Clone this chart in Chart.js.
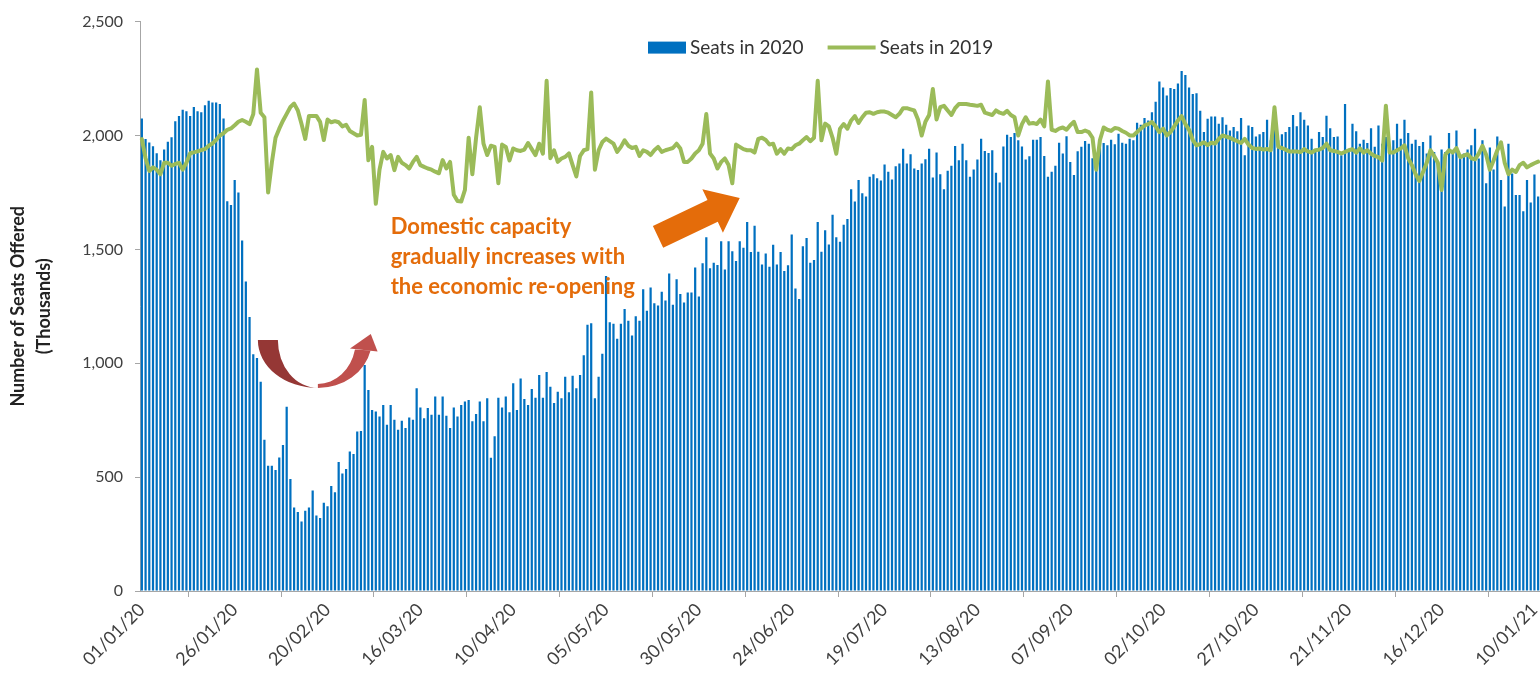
<!DOCTYPE html>
<html>
<head>
<meta charset="utf-8">
<script src="https://cdn.jsdelivr.net/npm/chart.js@4.4.1/dist/chart.umd.min.js"></script>
<style>
  html, body { margin: 0; padding: 0; background: #fff; }
  #wrap { width: 1540px; height: 673px; position: relative; }
</style>
</head>
<body>
<div id="wrap"><canvas id="seatsChart"></canvas></div>
<script>
// Daily seats offered (thousands), one value per day from 01/01/20
const startDate = '2020-01-01';

const seats2020 = [
  2075, 1984, 1969, 1953, 1922, 1891, 1938, 1972, 1992, 2063, 2086, 2113, 2106, 2086, 2125, 2106, 2102, 2133, 2152, 2145,
  2145, 2138, 2075, 1711, 1695, 1805, 1750, 1539, 1359, 1203,
  1039, 1023, 919, 664, 550, 550, 531, 586, 641, 809, 492, 367, 347, 305, 352, 367, 441, 331, 320, 388,
  372, 461, 434, 566, 516, 536, 613, 602, 700, 703, 992, 883,
  795, 788, 766, 817, 730, 817, 752, 708, 748, 716, 762, 752, 890, 806, 759, 803, 774, 854, 774, 854,
  769, 716, 806, 766, 817, 832, 839, 745, 777, 832, 745, 846,
  585, 679, 849, 806, 854, 785, 912, 795, 933, 843, 817, 887, 849, 948, 849, 962, 897, 825, 875, 846,
  941, 873, 945, 890, 948, 1035, 1169, 1176, 846, 941, 1042, 1383,
  1180, 1173, 1108, 1173, 1238, 1187, 1122, 1206, 1187, 1325, 1231, 1333, 1263, 1253, 1314, 1275, 1394, 1257, 1369, 1304,
  1267, 1311, 1311, 1420, 1293, 1439, 1553, 1417, 1441, 1431, 1536,
  1412, 1536, 1492, 1449, 1536, 1507, 1620, 1488, 1604, 1489, 1434, 1482, 1424, 1520, 1434, 1488, 1405, 1430, 1565, 1328,
  1282, 1514, 1550, 1441, 1453, 1620, 1489, 1584, 1521, 1652, 1553, 1533,
  1608, 1633, 1764, 1710, 1804, 1746, 1732, 1819, 1830, 1812, 1802, 1873, 1841, 1807, 1865, 1877, 1942, 1877, 1918, 1855,
  1848, 1877, 1896, 1942, 1815, 1925, 1830, 1764, 1845, 1867, 1954, 1891,
  1964, 1891, 1819, 1851, 1894, 1986, 1932, 1923, 1935, 1836, 1794, 1952, 2003, 1993, 2011, 1979, 1952, 1894, 1909, 1981,
  1981, 1993, 1910, 1819, 1841, 1867, 1968, 1921, 1997, 1884, 1826, 1931,
  1950, 1976, 1964, 1900, 1850, 1979, 1967, 1957, 1981, 1961, 2008, 1968, 1964, 1986, 1979, 2056, 2047, 2077, 2066, 2102,
  2148, 2237, 2211, 2175, 2208, 2204, 2228, 2283, 2266, 2211, 2182,
  2185, 2109, 2015, 2073, 2083, 2083, 2051, 2080, 2047, 2022, 2037, 2019, 2077, 1913, 2044, 2037, 1996, 2005, 2015, 2069,
  1979, 2051, 1979, 2005, 2015, 2037, 2090, 2040, 2102, 2069, 2044, 1986,
  1935, 2015, 1993, 2087, 2032, 1993, 1996, 1913, 2138, 1935, 2051, 2019, 1964, 1981, 1967, 2032, 1950, 2044, 1964, 1993,
  1935, 1979, 2051, 1986, 2069, 2011, 1964, 1981, 1954, 1971, 1921, 2000,
  1928, 1884, 1938, 1928, 2011, 1932, 2022, 1906, 1921, 1938, 1957, 2029, 1899, 1979, 1790, 1947, 1851, 1996, 1804, 1688,
  1964, 1833, 1739, 1739, 1667, 1804, 1706, 1829, 1732
];

const seats2019 = [
  1984, 1900, 1844, 1860, 1850, 1830, 1880, 1880, 1867, 1875, 1880, 1850, 1880, 1922, 1926, 1930, 1936, 1940, 1955, 1965,
  1980, 2000, 2010, 2025, 2031, 2045, 2060, 2068, 2060, 2050,
  2094, 2290, 2100, 2080, 1750, 1880, 1990, 2030, 2065, 2095, 2125, 2140, 2110, 2050, 1985, 2086, 2086, 2086, 2060, 1980,
  2070, 2058, 2063, 2058, 2040, 2047, 2020, 2010, 2000, 2003, 2156, 1891,
  1950, 1700, 1850, 1928, 1899, 1914, 1848, 1906, 1880, 1870, 1855, 1884, 1906, 1870, 1862, 1855, 1850, 1841, 1834, 1892,
  1855, 1884, 1740, 1712, 1710, 1761, 1990, 1830, 1990, 2124, 1964, 1914,
  1955, 1950, 1790, 1960, 1950, 1890, 1943, 1935, 1932, 1938, 1967, 1940, 1914, 1964, 1920, 2240, 1900, 1935, 1884, 1899,
  1906, 1921, 1870, 1820, 1910, 1935, 1940, 2189, 1850, 1935, 1971, 1986,
  1975, 1964, 1928, 1950, 1979, 1955, 1945, 1950, 1910, 1935, 1928, 1914, 1935, 1950, 1928, 1935, 1940, 1945, 1964, 1943,
  1884, 1884, 1899, 1921, 1935, 1964, 2094, 1921, 1899, 1855, 1884,
  1899, 1870, 1790, 1960, 1950, 1940, 1935, 1935, 1925, 1985, 1990, 1980, 1960, 1964, 1920, 1940, 1920, 1943, 1940, 1957,
  1964, 1979, 1993, 1975, 1990, 2240, 1979, 2052, 2040, 1990, 1920, 2030,
  2050, 2030, 2066, 2085, 2055, 2080, 2100, 2102, 2095, 2102, 2105, 2105, 2100, 2090, 2080, 2095, 2120, 2120, 2115, 2110,
  2070, 2000, 2060, 2090, 2204, 2070, 2124, 2130, 2110, 2090, 2120, 2138,
  2138, 2138, 2135, 2133, 2130, 2135, 2100, 2095, 2090, 2110, 2100, 2095, 2108, 2090, 2080, 2000, 2050, 2080, 2052, 2055,
  2050, 2070, 2040, 2237, 2025, 2020, 2030, 2035, 2025, 2045, 2060, 2015,
  2015, 2022, 2015, 1990, 1850, 1980, 2035, 2025, 2020, 2033, 2030, 2020, 2012, 2000, 2000, 2015, 2030, 2044, 2050, 2059,
  2040, 2015, 2030, 2000, 2015, 2040, 2066, 2085, 2050, 2025, 1980,
  1957, 1962, 1970, 1958, 1968, 1965, 1985, 2000, 1995, 1990, 1982, 1975, 1967, 1985, 1960, 1945, 1941, 1943, 1938, 1941,
  1935, 2124, 1950, 1945, 1938, 1930, 1930, 1930, 1927, 1940, 1930, 1925,
  1935, 1938, 1945, 1964, 1935, 1932, 1928, 1921, 1928, 1935, 1940, 1925, 1943, 1925, 1935, 1920, 1910, 1905, 1890, 2131,
  1925, 1925, 1935, 1943, 1957, 1900, 1870, 1830, 1800, 1840, 1880, 1935,
  1910, 1880, 1761, 1915, 1935, 1925, 1945, 1905, 1912, 1918, 1900, 1895, 1920, 1955, 1915, 1850, 1890, 1935, 1970, 1880,
  1830, 1850, 1840, 1870, 1880, 1860, 1870, 1878, 1885
];

const xTickLabels = ['01/01/20', '26/01/20', '20/02/20', '16/03/20', '10/04/20', '05/05/20', '30/05/20', '24/06/20',
  '19/07/20', '13/08/20', '07/09/20', '02/10/20', '27/10/20', '21/11/20', '16/12/20', '10/01/21'];

const noteLines = ['Domestic capacity', 'gradually increases with', 'the economic re-opening'];

// category labels dd/mm/yy, one per day
const pad = n => String(n).padStart(2, '0');
const days = seats2020.map((_, i) => {
  const d = new Date(startDate + 'T00:00:00Z');
  d.setUTCDate(d.getUTCDate() + i);
  return pad(d.getUTCDate()) + '/' + pad(d.getUTCMonth() + 1) + '/' + String(d.getUTCFullYear()).slice(2);
});

const FONT = 'Lato';

// legend drawn inside the plot, at the top
const topLegend = {
  id: 'topLegend',
  afterDraw(chart) {
    const { ctx, chartArea } = chart;
    const [bars, line] = chart.data.datasets;
    const yMid = chartArea.top + 26;
    ctx.save();
    ctx.font = '19px ' + FONT;
    ctx.textBaseline = 'middle';
    let x = 648;
    ctx.fillStyle = bars.backgroundColor;
    ctx.fillRect(x, yMid - 6, 38, 12);
    x += 42;
    ctx.fillStyle = '#333';
    ctx.fillText(bars.label, x, yMid);
    x += ctx.measureText(bars.label).width + 24;
    ctx.strokeStyle = line.borderColor;
    ctx.lineWidth = 4;
    ctx.beginPath();
    ctx.moveTo(x, yMid);
    ctx.lineTo(x + 48, yMid);
    ctx.stroke();
    x += 52;
    ctx.fillText(line.label, x, yMid);
    ctx.restore();
  }
};

// text note and the two arrows, anchored in data space
const notes = {
  id: 'notes',
  afterDatasetsDraw(chart) {
    const { ctx, scales: { x, y } } = chart;
    ctx.save();

    // orange note
    ctx.fillStyle = '#E46C0A';
    ctx.font = 'bold 22px ' + FONT;
    ctx.textBaseline = 'middle';
    const tx = x.getPixelForValue(67), ty = y.getPixelForValue(1600);
    noteLines.forEach((t, i) => ctx.fillText(t, tx, ty + i * 30));

    // orange block arrow
    const t0 = { x: x.getPixelForValue(139), y: y.getPixelForValue(1555) };
    const t1 = { x: x.getPixelForValue(161), y: y.getPixelForValue(1725) };
    const dx = t1.x - t0.x, dy = t1.y - t0.y, L = Math.hypot(dx, dy);
    const ux = dx / L, uy = dy / L, nx = -uy, ny = ux;
    const hw = 12, HW = 24, hl = 30;
    const bx = t0.x + ux * (L - hl), by = t0.y + uy * (L - hl);
    ctx.beginPath();
    ctx.moveTo(t0.x + nx * hw, t0.y + ny * hw);
    ctx.lineTo(bx + nx * hw, by + ny * hw);
    ctx.lineTo(bx + nx * HW, by + ny * HW);
    ctx.lineTo(t1.x, t1.y);
    ctx.lineTo(bx - nx * HW, by - ny * HW);
    ctx.lineTo(bx - nx * hw, by - ny * hw);
    ctx.lineTo(t0.x - nx * hw, t0.y - ny * hw);
    ctx.closePath();
    ctx.fill();

    // red curved arrow
    const cx = x.getPixelForValue(47.4), cy = y.getPixelForValue(1102);
    ctx.fillStyle = '#953735';
    ctx.beginPath();
    ctx.ellipse(cx, cy, 60, 48, 0, Math.PI, Math.PI / 2, true);
    ctx.ellipse(cx, cy, 40, 48, 0, Math.PI / 2, Math.PI, false);
    ctx.closePath();
    ctx.fill();

    const a1 = 0.22;
    ctx.fillStyle = '#C0504D';
    ctx.beginPath();
    ctx.ellipse(cx, cy, 54, 48, 0, Math.PI / 2, a1, true);
    ctx.ellipse(cx, cy, 38, 44, 0, a1, Math.PI / 2, false);
    ctx.closePath();
    ctx.fill();
    // arrow head at the right end
    const ox = cx + 54 * Math.cos(a1), oy = cy + 48 * Math.sin(a1);
    const ix = cx + 38 * Math.cos(a1), iy = cy + 44 * Math.sin(a1);
    const mx = (ox + ix) / 2, my = (oy + iy) / 2;
    ctx.beginPath();
    ctx.moveTo(ox + 7, oy + 1);
    ctx.lineTo(ix - 5, iy - 1);
    ctx.lineTo(mx + 8, my - 16);
    ctx.closePath();
    ctx.fill();

    ctx.restore();
  }
};

new Chart(document.getElementById('seatsChart'), {
  data: {
    labels: days,
    datasets: [
      {
        type: 'bar',
        label: 'Seats in 2020',
        data: seats2020,
        backgroundColor: '#0070C0',
        borderWidth: 0,
        barPercentage: 0.6,
        categoryPercentage: 1.0,
        order: 2
      },
      {
        type: 'line',
        label: 'Seats in 2019',
        data: seats2019,
        borderColor: '#9BBB59',
        borderWidth: 4,
        pointRadius: 0,
        tension: 0,
        borderJoinStyle: 'round',
        borderCapStyle: 'round',
        order: 1
      }
    ]
  },
  options: {
    responsive: true,
    maintainAspectRatio: false,
    animation: false,
    layout: { padding: { top: 17, right: 0, bottom: 0, left: 0 } },
    plugins: {
      legend: { display: false },
      tooltip: { enabled: false }
    },
    scales: {
      x: {
        offset: true,
        grid: { drawOnChartArea: false, drawTicks: true, tickLength: 6, color: '#A6A6A6' },
        border: { display: true, color: '#A6A6A6', width: 1 },
        ticks: {
          autoSkip: false,
          maxRotation: 45,
          minRotation: 45,
          padding: 2,
          color: '#404040',
          font: { family: FONT, size: 18 },
          callback: function (value, index) {
            const label = days[index];
            return xTickLabels.includes(label) ? label : null;
          }
        },
        afterFit(scale) {
          scale.height = 82;
          scale.paddingLeft = 0;
          scale.paddingRight = 0;
        }
      },
      y: {
        min: 0,
        max: 2500,
        grid: { drawOnChartArea: false, drawTicks: true, tickLength: 5, color: '#A6A6A6' },
        border: { display: true, color: '#A6A6A6', width: 1 },
        ticks: {
          stepSize: 500,
          padding: 12,
          color: '#404040',
          font: { family: FONT, size: 16 },
          callback: v => v.toLocaleString('en-US')
        },
        title: {
          display: true,
          text: ['Number of Seats Offered', '(Thousands)'],
          color: '#222',
          font: { family: FONT, size: 18, weight: 'bold', lineHeight: '26px' },
          padding: { top: 5, bottom: 0 }
        },
        afterFit(scale) {
          scale.width = 140;
        }
      }
    }
  },
  plugins: [notes, topLegend]
});
</script>
</body>
</html>
